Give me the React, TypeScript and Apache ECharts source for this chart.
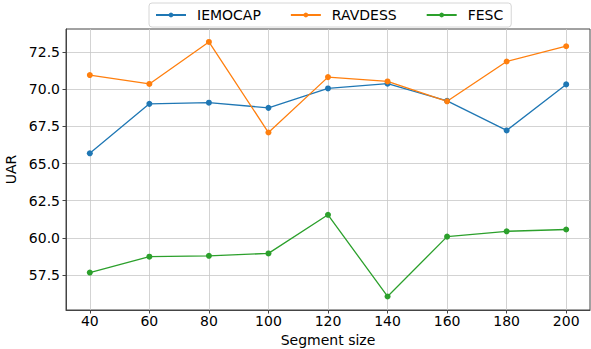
import React, { useEffect, useRef } from "react";
import * as echarts from "echarts";

const segmentSizes = [40, 60, 80, 100, 120, 140, 160, 180, 200];
const iemocap = [65.69, 69.02, 69.1, 68.75, 70.06, 70.38, 69.22, 67.23, 70.33];
const ravdess = [70.96, 70.36, 73.19, 67.09, 70.82, 70.53, 69.19, 71.87, 72.9];
const fesc = [57.66, 58.73, 58.79, 58.95, 61.55, 56.05, 60.08, 60.44, 60.56];
const yTicks = [57.5, 60.0, 62.5, 65.0, 67.5, 70.0, 72.5];

const FONT = "DejaVu Sans";

export default function App() {
  const ref = useRef<HTMLDivElement>(null);
  useEffect(() => {
    if (!ref.current) return;
    const chart = echarts.init(ref.current, undefined, { renderer: "svg" });
    const mk = (name: string, data: number[], color: string) => ({
      name,
      type: "line",
      data: segmentSizes.map((x, i) => [x, data[i]]),
      symbol: "circle",
      symbolSize: 6,
      lineStyle: { color, width: 1.3 },
      itemStyle: { color },
      z: 3,
    });
    chart.setOption({
      animation: false,
      backgroundColor: "#ffffff",
      textStyle: { fontFamily: FONT },
      grid: {
        left: 66,
        right: 1,
        top: 29,
        bottom: 39,
        outerBoundsMode: "none",
        containLabel: false,
        show: true,
        borderColor: "#444",
        borderWidth: 1,
        backgroundColor: "transparent",
      },
      legend: {
        top: 3,
        left: 149,
        itemWidth: 30,
        itemHeight: 6,
        itemGap: 29,
        padding: [5, 8, 5, 6],
        borderColor: "#d6d6d6",
        borderWidth: 1,
        borderRadius: 3,
        textStyle: { fontFamily: FONT, fontSize: 14, color: "#000", padding: [0, 0, 0, 6] },
        data: ["IEMOCAP", "RAVDESS", "FESC"],
      },
      xAxis: {
        type: "value",
        min: 32,
        max: 208,
        name: "Segment size",
        nameLocation: "middle",
        nameGap: 21,
        nameTextStyle: { fontFamily: FONT, fontSize: 14, color: "#000" },
        axisLine: { show: true, lineStyle: { color: "#444" } },
        axisTick: { show: true, length: 3.5, customValues: segmentSizes, lineStyle: { color: "#444" } },
        axisLabel: {
          customValues: segmentSizes,
          fontFamily: FONT,
          fontSize: 14,
          color: "#000",
          margin: 4,
        },
        splitLine: { show: true, lineStyle: { color: "#c8c8c8", width: 0.8 } },
      },
      yAxis: {
        type: "value",
        min: 55.14,
        max: 74.06,
        name: "UAR",
        nameLocation: "middle",
        nameGap: 38,
        nameTextStyle: { fontFamily: FONT, fontSize: 14, color: "#000" },
        axisLine: { show: true, lineStyle: { color: "#444" } },
        axisTick: { show: true, length: 3.5, customValues: yTicks, lineStyle: { color: "#444" } },
        axisLabel: {
          customValues: yTicks,
          fontFamily: FONT,
          fontSize: 14,
          color: "#000",
          margin: 6,
          formatter: (v: number) => v.toFixed(1),
        },
        splitLine: { show: true, lineStyle: { color: "#c8c8c8", width: 0.8 } },
      },
      series: [
        mk("IEMOCAP", iemocap, "#1f77b4"),
        mk("RAVDESS", ravdess, "#ff7f0e"),
        mk("FESC", fesc, "#2ca02c"),
      ],
    });
    return () => chart.dispose();
  }, []);
  return <div ref={ref} style={{ width: 591, height: 349, position: "absolute", left: 0, top: 0 }} />;
}
